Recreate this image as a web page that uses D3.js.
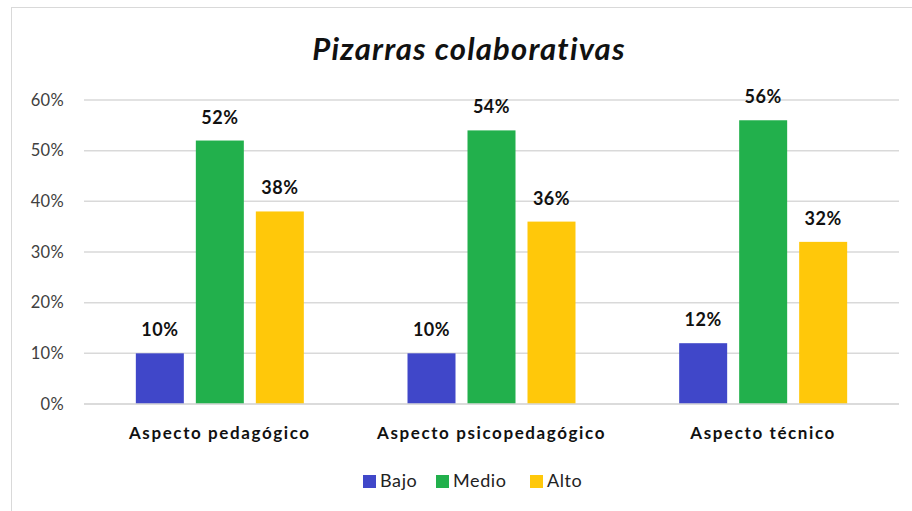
<!DOCTYPE html>
<html><head><meta charset="utf-8">
<script src="https://cdn.jsdelivr.net/npm/d3@7"></script>
<style>body{margin:0;background:#fff}svg{display:block}</style>
</head><body><svg id="c" width="912" height="511"></svg>
<script>
const categories = ["Aspecto pedagógico", "Aspecto psicopedagógico", "Aspecto técnico"];
const seriesNames = ["Bajo", "Medio", "Alto"];
const bajo = [0.10, 0.10, 0.12];
const medio = [0.52, 0.54, 0.56];
const alto = [0.38, 0.36, 0.32];
const yTicks = [0, 0.1, 0.2, 0.3, 0.4, 0.5, 0.6];
const colors = ["#4047c9", "#22b04c", "#ffc80a"];
const title = "Pizarras colaborativas";

(function () {
const seriesVals = [bajo, medio, alto];
const svg = d3.select("#c");
const font = "Lato, 'Open Sans', sans-serif";

svg.append("rect").attr("x", 11.5).attr("y", 7.5).attr("width", 920).attr("height", 520)
  .attr("fill", "#fff").attr("stroke", "#d9d9d9");

const pLeft = 84, pRight = 899, pTop = 100, pBottom = 404;
const y = d3.scaleLinear().domain([0, 0.6]).range([pBottom, pTop]);
const x0 = d3.scaleBand().domain(categories).range([pLeft, pRight]).padding(0);
const x1 = d3.scaleBand().domain(seriesNames).range([0, x0.bandwidth()]).paddingInner(0.2).paddingOuter(0.864);

svg.append("g").selectAll("line").data(yTicks).join("line")
  .attr("x1", pLeft).attr("x2", pRight).attr("y1", d => y(d)).attr("y2", d => y(d))
  .attr("stroke", "#d9d9d9").attr("stroke-width", 1.5);

const yAxis = d3.axisLeft(y).tickValues(yTicks).tickFormat(d3.format(".0%")).tickSize(0).tickPadding(20);
const gy = svg.append("g").attr("transform", `translate(${pLeft},0)`).call(yAxis);
gy.select(".domain").remove();
gy.selectAll("text").attr("font-family", font).attr("font-size", 16.5).attr("letter-spacing", 0.3)
  .attr("fill", "#404040");

const groups = svg.append("g").selectAll("g").data(categories).join("g")
  .attr("transform", c => `translate(${x0(c)},0)`);
seriesNames.forEach((s, si) => {
  groups.append("rect")
    .attr("x", x1(s)).attr("width", x1.bandwidth())
    .attr("y", (c, i) => y(seriesVals[si][i]))
    .attr("height", (c, i) => pBottom - y(seriesVals[si][i]))
    .attr("fill", colors[si]);
  groups.append("text")
    .attr("x", x1(s) + x1.bandwidth() / 2)
    .attr("y", (c, i) => y(seriesVals[si][i]) - 17)
    .attr("text-anchor", "middle").attr("font-family", font).attr("font-weight", "bold")
    .attr("font-size", 18).attr("letter-spacing", 0.5).attr("fill", "#111")
    .text((c, i) => d3.format(".0%")(seriesVals[si][i]));
});

svg.append("line").attr("x1", pLeft).attr("x2", pRight).attr("y1", pBottom).attr("y2", pBottom)
  .attr("stroke", "#d9d9d9").attr("stroke-width", 1.5);
const xAxis = d3.axisBottom(x0).tickSize(0).tickPadding(0);
const gx = svg.append("g").attr("transform", `translate(0,${pBottom})`).call(xAxis);
gx.select(".domain").remove();
gx.selectAll("text").attr("y", 35).attr("dy", 0).attr("font-family", font).attr("font-weight", "bold")
  .attr("font-size", 17).attr("letter-spacing", 1.6).attr("fill", "#111");

svg.append("text").attr("x", 469).attr("y", 60).attr("text-anchor", "middle")
  .attr("font-family", font).attr("font-weight", "bold").attr("font-style", "italic")
  .attr("font-size", 31).attr("letter-spacing", 1.2).attr("fill", "#111").text(title);

const legX = [363, 436, 530];
const leg = svg.append("g").selectAll("g").data(seriesNames).join("g")
  .attr("transform", (d, i) => `translate(${legX[i]},475)`);
leg.append("rect").attr("width", 13).attr("height", 13).attr("fill", (d, i) => colors[i]);
leg.append("text").attr("x", 17).attr("y", 12).attr("font-family", font).attr("font-size", 18)
  .attr("letter-spacing", 0.6).attr("fill", "#222").text(d => d);
})();
</script></body></html>
